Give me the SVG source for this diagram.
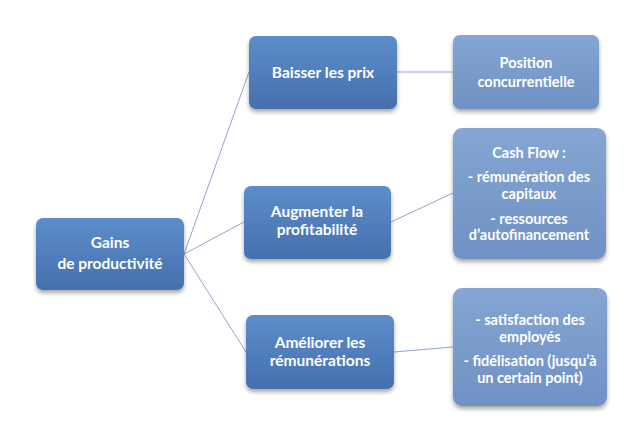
<svg xmlns="http://www.w3.org/2000/svg" width="640" height="429" viewBox="0 0 640 429">
<defs>
<linearGradient id="g1" x1="0" y1="0" x2="0" y2="1"><stop offset="0" stop-color="#5d8dcb"/><stop offset="1" stop-color="#4570ad"/></linearGradient>
<linearGradient id="g2" x1="0" y1="0" x2="0" y2="1"><stop offset="0" stop-color="#85a6d3"/><stop offset="1" stop-color="#6f91c4"/></linearGradient>
<filter id="sh" x="-10%" y="-10%" width="125%" height="130%"><feGaussianBlur in="SourceAlpha" stdDeviation="2"/><feOffset dx="0" dy="3"/><feComponentTransfer><feFuncA type="linear" slope="0.35"/></feComponentTransfer><feMerge><feMergeNode/><feMergeNode in="SourceGraphic"/></feMerge></filter>
</defs>
<style>
.n1{fill:url(#g1);filter:url(#sh)}
.n2{fill:url(#g2);filter:url(#sh)}
text{font-family:Lato,"Liberation Sans",sans-serif;font-weight:bold;fill:#fff;text-anchor:middle;font-size:15.5px}
.s{font-size:14.5px}
.c line{stroke:#8fa8cf;stroke-width:1}
</style>
<rect width="640" height="429" fill="#fff"/>
<g class="c" id="connectors">
<line x1="184" y1="254" x2="249" y2="72"/>
<line x1="184" y1="254" x2="244" y2="222"/>
<line x1="184" y1="254" x2="246" y2="352"/>
<line x1="397" y1="72" x2="453" y2="72"/>
<line x1="391" y1="222" x2="453" y2="193"/>
<line x1="394" y1="352" x2="453" y2="347"/>
</g>
<g id="root"><rect class="n1" x="36" y="218" width="148" height="72" rx="7"/><text x="110" y="248">Gains</text><text x="110" y="269">de productivité</text></g>
<g id="baisser"><rect class="n1" x="249" y="36" width="148" height="73" rx="7"/><text x="323" y="78">Baisser les prix</text></g>
<g id="augmenter"><rect class="n1" x="244" y="186" width="147" height="73" rx="7"/><text x="317" y="217">Augmenter la</text><text x="317" y="235">profitabilité</text></g>
<g id="ameliorer"><rect class="n1" x="246" y="315" width="148" height="74" rx="7"/><text x="320" y="348">Améliorer les</text><text x="320" y="366">rémunérations</text></g>
<g id="position"><rect class="n2" x="453" y="35" width="146" height="74" rx="7"/><text class="s" x="526" y="68">Position</text><text class="s" x="526" y="87">concurrentielle</text></g>
<g id="cashflow"><rect class="n2" x="453" y="128" width="153" height="131" rx="9"/><text class="s" x="529" y="158">Cash Flow :</text><text class="s" x="529" y="182">- rémunération des</text><text class="s" x="529" y="199">capitaux</text><text class="s" x="529" y="224">- ressources</text><text class="s" x="529" y="240">d’autofinancement</text></g>
<g id="satisfaction"><rect class="n2" x="453" y="288" width="154" height="118" rx="9"/><text class="s" x="530" y="325">- satisfaction des</text><text class="s" x="530" y="342">employés</text><text class="s" x="530" y="366">- fidélisation (jusqu’à</text><text class="s" x="530" y="383">un certain point)</text></g>
</svg>
